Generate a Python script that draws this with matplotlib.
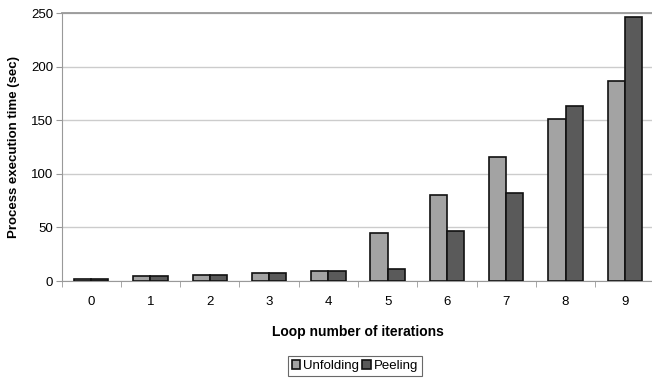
import numpy as np
import matplotlib.pyplot as plt

plt.rcParams['font.family'] = ['Liberation Sans', 'DejaVu Sans']

# execution time per loop iteration count
iterations = [0, 1, 2, 3, 4, 5, 6, 7, 8, 9]
unfolding = [2.2, 4.7, 5.6, 7.8, 8.9, 44.8, 80.5, 115.4, 151, 187]
peeling = [2.2, 4.7, 5.6, 7.8, 8.9, 11.5, 47, 81.8, 163, 246]

fig = plt.figure(figsize=(6.52, 3.79), dpi=100)
ax = fig.add_axes([61.5 / 652, 98 / 379, 593 / 652, 268 / 379])

x = np.arange(len(iterations))
w = 0.29
ax.bar(x - w / 2, unfolding, w, color='#a3a3a3', edgecolor='#111111', linewidth=1.2,
       label='Unfolding', zorder=3)
ax.bar(x + w / 2, peeling, w, color='#5a5a5a', edgecolor='#111111', linewidth=1.2,
       label='Peeling', zorder=3)

ax.set_xlim(-0.5, 9.5)
ax.set_ylim(0, 250)
ax.set_yticks(range(0, 251, 50))
ax.yaxis.grid(True, color='#cccccc', linewidth=1.0, zorder=0)

# category labels centred, tick marks between groups
ax.set_xticks(x)
ax.set_xticklabels([str(i) for i in iterations], fontsize=9.5)
ax.set_xticks(np.arange(-0.5, 10, 1), minor=True)
ax.tick_params(axis='x', which='major', length=0, pad=11)
ax.tick_params(axis='x', which='minor', length=4, color='#999999')
ax.tick_params(axis='y', length=4, color='#999999', labelsize=9.5, pad=2)

ax.spines['right'].set_visible(False)
ax.spines['top'].set_color('#999999')
ax.spines['top'].set_linewidth(1.3)
ax.spines['left'].set_color('#999999')
ax.spines['bottom'].set_color('#999999')

ax.set_xlabel('Loop number of iterations', fontsize=10, fontweight='bold', labelpad=12)
ax.set_ylabel('Process execution time (sec)', fontsize=9.5, fontweight='bold', labelpad=8)

leg = fig.legend(loc='center', bbox_to_anchor=(355 / 652, 1 - 366 / 379), ncol=2,
                 fontsize=9.5, frameon=True, fancybox=False, handlelength=0.65,
                 handleheight=0.65, handletextpad=0.25, columnspacing=0.2,
                 borderpad=0.3, borderaxespad=0)
leg.get_frame().set_edgecolor('#444444')
leg.get_frame().set_linewidth(0.8)

fig.savefig('out.png', dpi=100)
